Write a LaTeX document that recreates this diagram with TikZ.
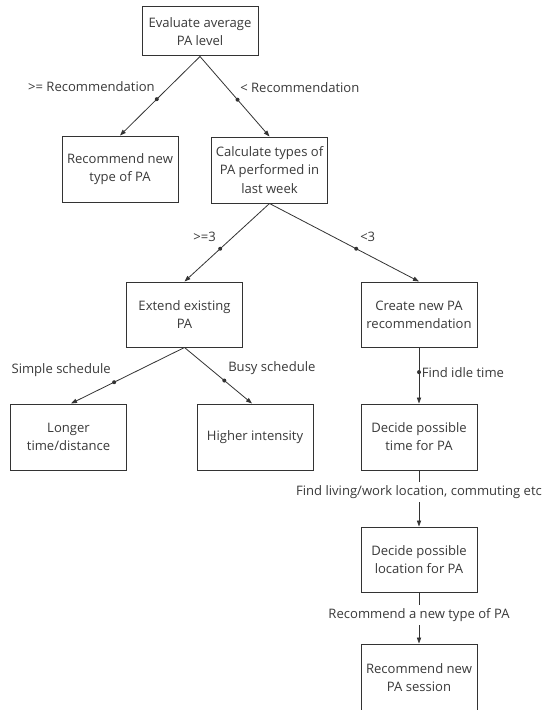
\documentclass[tikz,border=0pt]{standalone}
\usepackage{fontspec}
\setmainfont{Open Sans}
\usetikzlibrary{arrows.meta,calc}
\definecolor{ink}{HTML}{333333}
\definecolor{tink}{HTML}{3A3A3A}
\begin{document}
\begin{tikzpicture}[x=0.75pt,y=-0.75pt,
  txt/.style={font=\fontsize{9.8pt}{13.6pt}\selectfont, text=tink},
  box/.style={txt, draw=ink, line width=0.75pt, minimum width=87pt, minimum height=49.5pt, inner sep=0pt, align=center},
  conn/.style={draw=ink, line width=0.6pt, -{Triangle[length=4.5pt,width=3.2pt]}},
  dot/.style={circle, fill=ink, inner sep=0pt, minimum size=3pt},
  lbl/.style={txt, inner sep=0pt},
  wlbl/.style={txt, fill=white, inner xsep=1pt, inner ysep=2.5pt}]
\clip (0,0) rectangle (544,710);
\fill[white] (0,0) rectangle (544,710);
% boxes
\node[box, minimum height=36.75pt] (b1) at (200,31.5) {Evaluate average\\PA level};
\node[box] (b2) at (120,169) {Recommend new\\type of PA};
\node[box] (b3) at (269.5,170) {Calculate types of\\PA performed in\\last week};
\node[box, minimum height=48.75pt] (b4) at (184.5,314.5) {Extend existing\\PA};
\node[box, minimum height=48.75pt] (b5) at (419,314.5) {Create new PA\\recommendation};
\node[box] (b6) at (68.5,437) {Longer\\time/distance};
\node[box] (b7) at (255,437) {Higher intensity};
\node[box] (b8) at (419,437) {Decide possible\\time for PA};
\node[box, minimum height=48.75pt] (b9) at (419,559.5) {Decide possible\\location for PA};
\node[box, minimum height=51pt] (b10) at (419,678) {Recommend new\\PA session};
% connectors
\draw[conn] (b1.south) -- node[dot,pos=0.54]{} (b2.north);
\draw[conn] (b1.south) -- node[dot,pos=0.54]{} (b3.north);
\draw[conn] (b3.south) -- node[dot,pos=0.58]{} (b4.north);
\draw[conn] (b3.south) -- node[dot,pos=0.58]{} (b5.north);
\draw[conn] (b4.south) -- node[dot,pos=0.62]{} ($(b6.north)+(2.5,0)$);
\draw[conn] (b4.south) -- node[dot,pos=0.59]{} ($(b7.north)+(-3,0)$);
\draw[conn] (b5.south) -- node[dot,pos=0.44]{} (b8.north);
\draw[conn] (b8.south) -- node[wlbl,pos=0.39]{Find living/work location, commuting etc} (b9.north);
\draw[conn] (b9.south) -- node[wlbl,pos=0.44]{Recommend a new type of PA} (b10.north);
% labels
\node[lbl, anchor=east] (l1) at (155,87) {>= Recommendation};
\node[lbl, anchor=west] (l2) at (240,88) {< Recommendation};
\node[lbl, anchor=east] (l3) at (216,237) {>=3};
\node[lbl, anchor=west] (l4) at (360,237) {<3};
\node[lbl, anchor=east] (l5) at (111,370) {Simple schedule};
\node[lbl, anchor=west] (l6) at (228,368) {Busy schedule};
\node[lbl, anchor=west] (l7) at (421.5,372.3) {Find idle time};
\end{tikzpicture}
\end{document}
